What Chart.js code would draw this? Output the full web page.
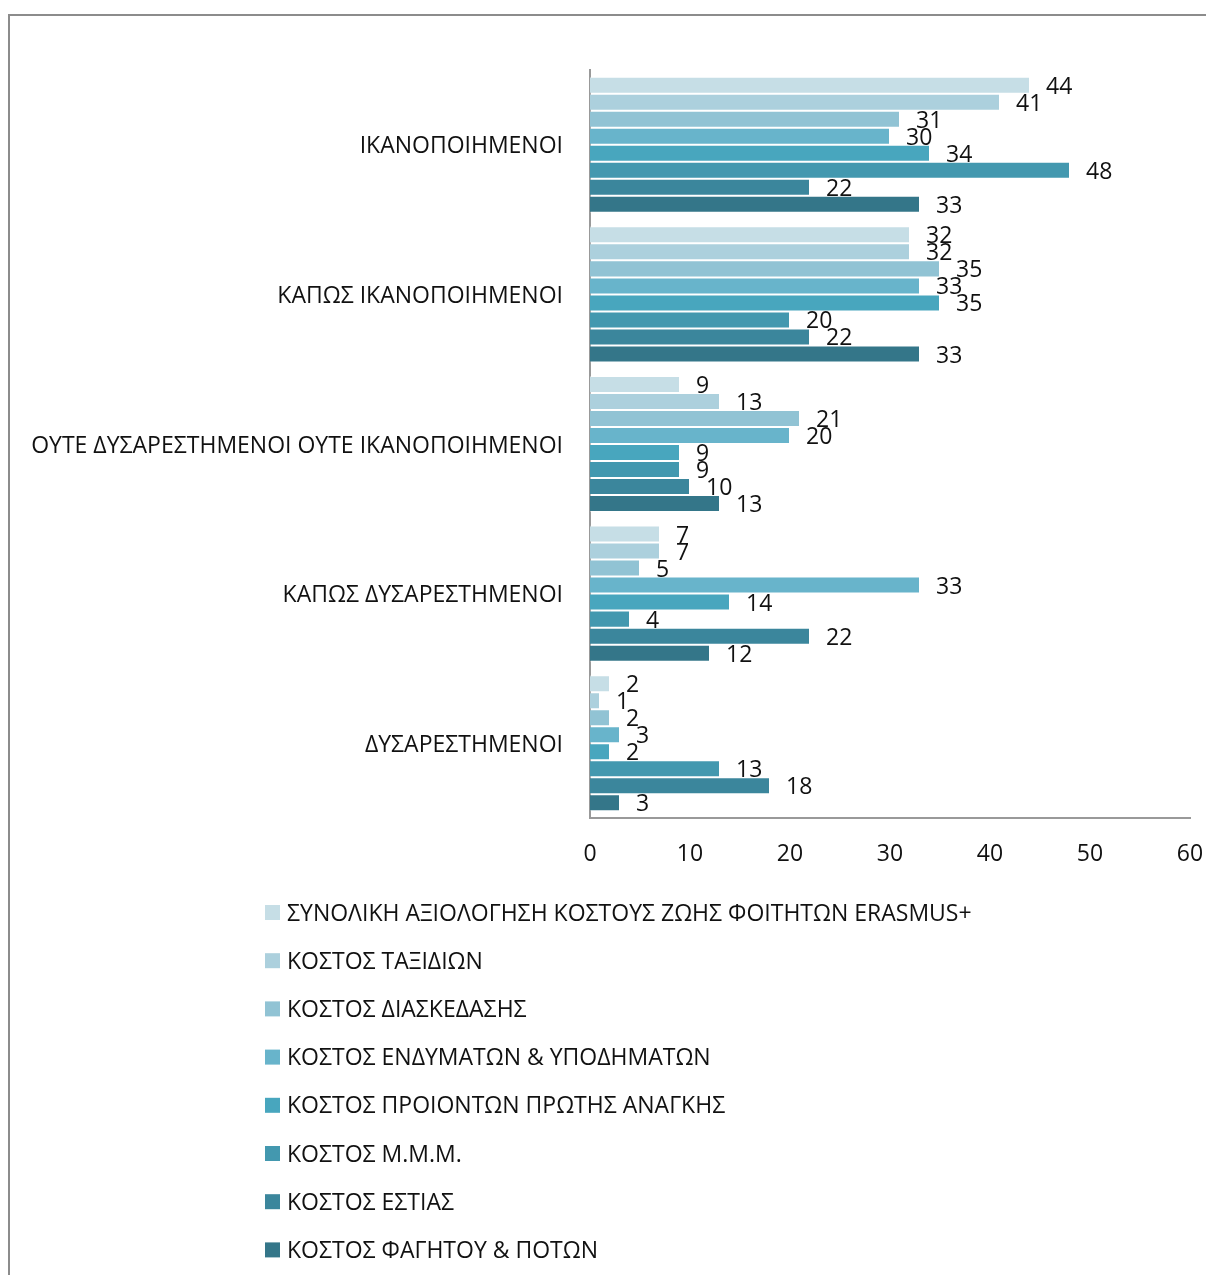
<!DOCTYPE html>
<html>
<head>
<meta charset="utf-8">
<script src="https://cdn.jsdelivr.net/npm/chart.js@4"></script>
<style>
  html, body { margin: 0; padding: 0; background: #fff; }
  #wrap { width: 1206px; height: 1275px; position: relative; }
</style>
</head>
<body>
<div id="wrap"><canvas id="c" width="1206" height="1275"></canvas></div>
<script>
'use strict'

// categories (top to bottom)
const categories = [
  'ΙΚΑΝΟΠΟΙΗΜΕΝΟΙ',
  'ΚΑΠΩΣ ΙΚΑΝΟΠΟΙΗΜΕΝΟΙ',
  'ΟΥΤΕ ΔΥΣΑΡΕΣΤΗΜΕΝΟΙ ΟΥΤΕ ΙΚΑΝΟΠΟΙΗΜΕΝΟΙ',
  'ΚΑΠΩΣ ΔΥΣΑΡΕΣΤΗΜΕΝΟΙ',
  'ΔΥΣΑΡΕΣΤΗΜΕΝΟΙ'
];

const seriesNames = [
  'ΣΥΝΟΛΙΚΗ ΑΞΙΟΛΟΓΗΣΗ ΚΟΣΤΟΥΣ ΖΩΗΣ ΦΟΙΤΗΤΩΝ ERASMUS+',
  'ΚΟΣΤΟΣ ΤΑΞΙΔΙΩΝ',
  'ΚΟΣΤΟΣ ΔΙΑΣΚΕΔΑΣΗΣ',
  'ΚΟΣΤΟΣ ΕΝΔΥΜΑΤΩΝ & ΥΠΟΔΗΜΑΤΩΝ',
  'ΚΟΣΤΟΣ ΠΡΟΙΟΝΤΩΝ ΠΡΩΤΗΣ ΑΝΑΓΚΗΣ',
  'ΚΟΣΤΟΣ Μ.Μ.Μ.',
  'ΚΟΣΤΟΣ ΕΣΤΙΑΣ',
  'ΚΟΣΤΟΣ ΦΑΓΗΤΟΥ & ΠΟΤΩΝ'
];

// one array per series, values per category
const synoliki   = [44, 32, 9, 7, 2];
const taxidia    = [41, 32, 13, 7, 1];
const diaskedasi = [31, 35, 21, 5, 2];
const endymata   = [30, 33, 20, 33, 3];
const proionta   = [34, 35, 9, 14, 2];
const mmm        = [48, 20, 9, 4, 13];
const estia      = [22, 22, 10, 22, 18];
const fagito     = [33, 33, 13, 12, 3];

const xTicks = [0, 10, 20, 30, 40, 50, 60];

const seriesValues = [synoliki, taxidia, diaskedasi, endymata, proionta, mmm, estia, fagito];
const colors = ['#c6dee6', '#acd0dd', '#91c3d4', '#68b4cb', '#48a6be', '#4398af', '#3b869c', '#347689'];

const FONT = '"Open Sans", sans-serif';
const FSIZE = 23;
const TEXT = '#111';

// frame around the chart (only left/top visible in the crop)
const framePlugin = {
  id: 'frame',
  beforeDraw(chart) {
    const ctx = chart.ctx;
    ctx.save();
    ctx.strokeStyle = '#8c8c8c';
    ctx.lineWidth = 2;
    ctx.beginPath();
    ctx.moveTo(9, 1275);
    ctx.lineTo(9, 15);
    ctx.lineTo(1206, 15);
    ctx.stroke();
    ctx.restore();
  }
};

// value labels at bar ends
const valueLabels = {
  id: 'valueLabels',
  afterDatasetsDraw(chart) {
    const ctx = chart.ctx;
    ctx.save();
    ctx.font = FSIZE + 'px ' + FONT;
    ctx.fillStyle = TEXT;
    ctx.textAlign = 'left';
    ctx.textBaseline = 'middle';
    chart.data.datasets.forEach((ds, i) => {
      chart.getDatasetMeta(i).data.forEach((bar, j) => {
        ctx.fillText(String(ds.data[j]), bar.x + 16, bar.y + 2);
      });
    });
    ctx.restore();
  }
};

// legend: one item per row under the plot
const rowLegend = {
  id: 'rowLegend',
  afterDraw(chart) {
    const ctx = chart.ctx;
    ctx.save();
    ctx.font = FSIZE + 'px ' + FONT;
    ctx.textBaseline = 'middle';
    ctx.textAlign = 'left';
    chart.data.datasets.forEach((ds, i) => {
      const y = 912 + i * 48.2;
      ctx.fillStyle = ds.backgroundColor;
      ctx.fillRect(265, y - 7, 15, 15);
      ctx.fillStyle = TEXT;
      ctx.fillText(ds.label, 287, y + 2);
    });
    ctx.restore();
  }
};

new Chart(document.getElementById('c'), {
  type: 'bar',
  data: {
    labels: categories,
    datasets: seriesNames.map((name, i) => ({
      label: name,
      data: seriesValues[i],
      backgroundColor: colors[i],
      borderColor: 'rgba(255,255,255,0.35)',
      borderWidth: 1,
      barPercentage: 1,
      categoryPercentage: 0.91
    }))
  },
  options: {
    indexAxis: 'y',
    responsive: false,
    animation: false,
    layout: { padding: { top: 70, right: 16, bottom: 407, left: 0 } },
    plugins: {
      legend: { display: false },
      tooltip: { enabled: false }
    },
    scales: {
      x: {
        min: 0,
        max: 60,
        afterBuildTicks(s) { s.ticks = xTicks.map(v => ({ value: v })); },
        afterFit(s) { s.height = 50; s.paddingLeft = 0; s.paddingRight = 0; },
        grid: { display: false },
        border: { color: '#999', width: 2 },
        ticks: { color: TEXT, font: { family: FONT, size: FSIZE }, padding: 15 }
      },
      y: {
        afterFit(s) { s.width = 590; s.paddingTop = 0; s.paddingBottom = 0; },
        grid: { display: false },
        border: { color: '#999', width: 2 },
        ticks: { color: TEXT, font: { family: FONT, size: FSIZE }, padding: 19, labelOffset: 2, autoSkip: false }
      }
    }
  },
  plugins: [framePlugin, valueLabels, rowLegend]
});
</script>
</body>
</html>
